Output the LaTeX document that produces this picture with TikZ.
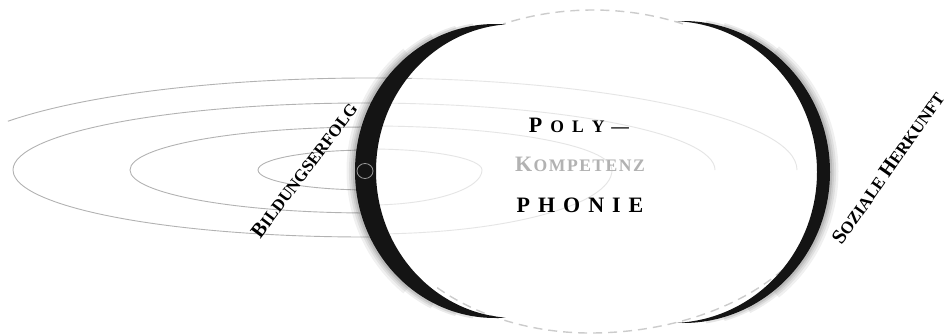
\documentclass[tikz,border=0pt]{standalone}
\usepackage{fontspec}
\setmainfont{Liberation Serif}
\newcommand\Cz{\fontsize{22}{22}\selectfont}
\newcommand\Sz{\fontsize{17.6}{17}\selectfont}
\newcommand\Cr{\fontsize{20.5}{20}\selectfont}
\newcommand\Sr{\fontsize{17}{17}\selectfont}
\begin{document}
\begin{tikzpicture}[x=1pt,y=-1pt,
  ring/.style={draw=black!30, line width=0.9pt},
  inring/.style={draw=black!10, line width=0.9pt},
  dashborder/.style={draw=black!20, line width=1.4pt, dash pattern=on 9pt off 6pt},
  moon/.style={fill=black!92, even odd rule},
  glow/.style={draw=black, line width=#1},
  lbl/.style={font=\bfseries, inner sep=0pt}]
\useasboundingbox (0,0) rectangle (948,335);
% rings outside
\draw[ring] (370,170) ellipse [x radius=112pt, y radius=20pt];
\draw[ring] (370,170) ellipse [x radius=240pt, y radius=43pt];
\draw[ring] (365,170) ++(0:352pt and 67pt) arc [start angle=0, end angle=275, x radius=352pt, y radius=67pt];
\draw[ring] (370,170) ++(148:427pt and 92pt) arc [start angle=148, end angle=0, x radius=427pt, y radius=92pt];
% big oval
\fill[white] (593,171) ellipse [x radius=221pt, y radius=161pt];
\begin{scope}
\clip (593,171) ellipse [x radius=221pt, y radius=161pt];
\draw[inring] (370,170) ++(0:112pt and 21pt) arc [start angle=0, end angle=180, x radius=112pt, y radius=21pt]
  arc [start angle=180, end angle=360, x radius=112pt, y radius=35pt];
\draw[inring] (370,170) ++(0:242pt and 44pt) arc [start angle=0, end angle=180, x radius=242pt, y radius=44pt]
  arc [start angle=180, end angle=360, x radius=242pt, y radius=64pt];
\draw[inring] (365,170) ++(0:350pt and 67pt) arc [start angle=0, end angle=180, x radius=350pt, y radius=67pt];
\draw[inring] (370,170) ++(0:427pt and 92pt) arc [start angle=0, end angle=180, x radius=427pt, y radius=92pt];
\end{scope}
\draw[dashborder] (593,171) ++(66:221pt and 161pt) arc [start angle=66, end angle=114, x radius=221pt, y radius=161pt];
\draw[dashborder] (590,171.5) ++(226:220pt and 161.5pt) arc [start angle=226, end angle=270, x radius=220pt, y radius=161.5pt]
  arc [start angle=270, end angle=323, x radius=243pt, y radius=161.5pt];
% left crescent
\begin{scope}
\clip (0,0) rectangle (505.5,335);
\begin{scope}[even odd rule]
\clip (0,0) rectangle (948,335) (516,171) ellipse [x radius=140pt, y radius=147pt];
\foreach \w/\o/\a in {17/0.06/128, 12/0.07/116, 8/0.08/106, 4.5/0.1/99}
  \draw[glow=\w pt, opacity=\o] (495,171) ++(\a:140pt and 147pt) arc [start angle=\a, end angle=360-\a, x radius=140pt, y radius=147pt];
\end{scope}
\fill[moon] (495,171) ellipse [x radius=140pt, y radius=147pt] (516,171) ellipse [x radius=140pt, y radius=147pt];
\end{scope}
% right crescent
\begin{scope}
\clip (676.5,0) rectangle (948,335);
\begin{scope}[even odd rule]
\clip (0,0) rectangle (948,335) (670,172) ellipse [x radius=147pt, y radius=151pt];
\foreach \w/\o/\a in {17/0.06/52, 12/0.07/64, 8/0.08/74, 4.5/0.1/81}
  \draw[glow=\w pt, opacity=\o] (683,172) ++(-\a:147pt and 151pt) arc [start angle=-\a, end angle=\a, x radius=147pt, y radius=151pt];
\end{scope}
\fill[moon] (683,172) ellipse [x radius=147pt, y radius=151pt] (670,172) ellipse [x radius=147pt, y radius=151pt];
\end{scope}
% small centre ring
\draw[black!40, line width=0.8pt] (365,171) ellipse [x radius=8pt, y radius=7.5pt];
% texts
\node[lbl] (poly) at (579,125) {{\Cz P}\kern8pt{\Sz O\kern8pt L\kern8pt Y\kern7pt —}};
\node[lbl, text=black!30] (komp) at (580,164) {{\Cz K}\kern1.5pt{\Sz O\kern1.5pt M\kern1.5pt P\kern1.5pt E\kern1.5pt T\kern1.5pt E\kern1.5pt N\kern1.5pt Z}};
\node[lbl] (phon) at (580,205) {\Cz P\kern8pt H\kern8pt O\kern8pt N\kern8pt I\kern8pt E};
\node[lbl, rotate=53] (bild) at (304,170) {{\Cr B}{\Sr ILDUNGSERFOLG}};
\node[lbl, rotate=55] (soz) at (888,168) {{\Cr S}{\Sr OZIALE }{\Cr H}{\Sr ERKUNFT}};
\end{tikzpicture}
\end{document}
